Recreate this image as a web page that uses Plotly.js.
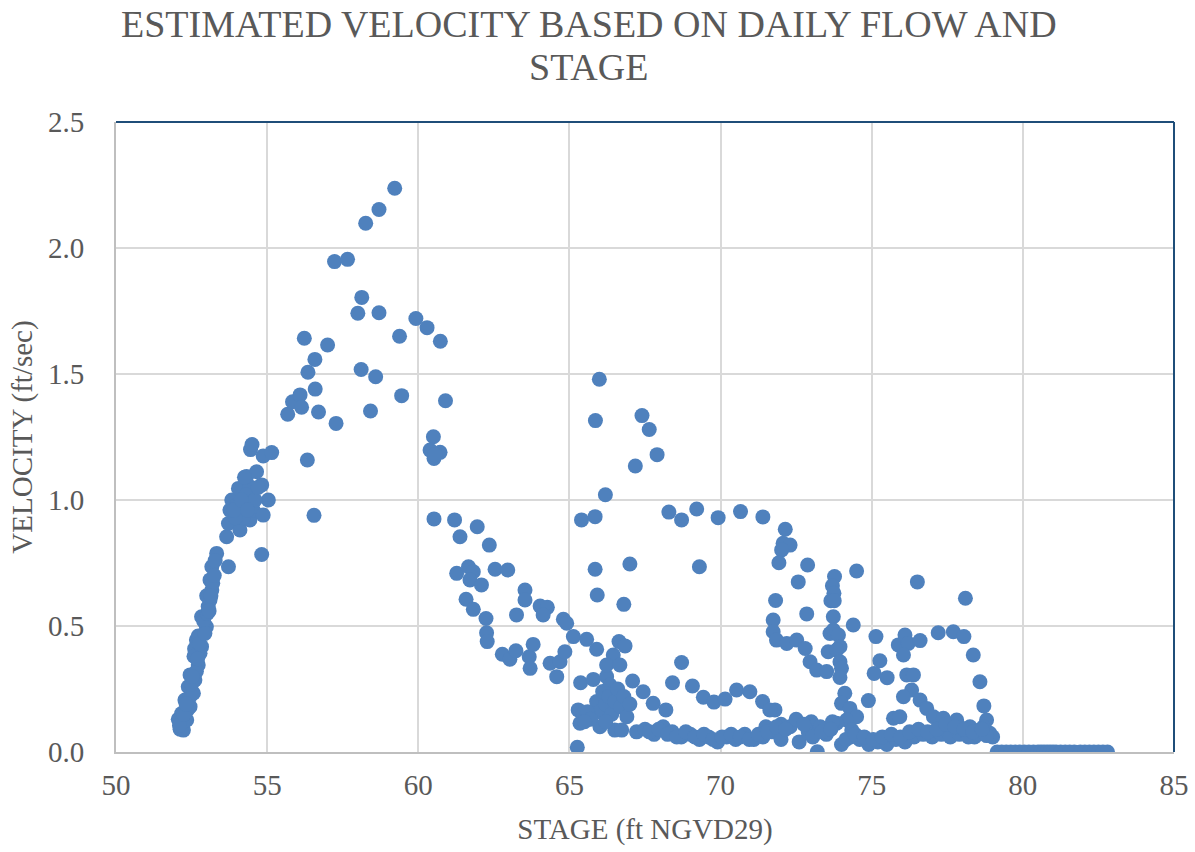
<!DOCTYPE html>
<html>
<head>
<meta charset="utf-8">
<script src="https://cdn.plot.ly/plotly-3.0.1.min.js"></script>
<style>html,body{margin:0;padding:0;background:#fff;}#chart{width:1195px;height:852px;}</style>
</head>
<body>
<div id="chart"></div>
<script>
// Stage (ft NGVD29) and estimated velocity (ft/sec)
const stage = [
 52.12,52.17,52.14,52.20,52.06,52.23,52.28,52.17,52.34,52.28,52.38,52.45,52.39,52.45,52.56,52.45,52.61,52.50,52.72,52.66,
 52.78,52.83,52.66,52.60,52.72,52.99,52.83,52.90,53.05,53.11,53.00,53.17,53.11,53.20,53.17,53.33,53.28,53.72,53.66,53.72,
 53.77,53.83,54.10,54.10,54.21,54.43,54.54,54.87,54.82,55.04,54.05,54.43,54.32,54.82,54.65,54.00,54.30,54.60,54.20,53.95,
 54.45,54.50,54.87,55.15,54.25,
 52.10,52.25,52.32,52.52,52.58,52.70,52.76,52.94,53.02,53.08,53.14,53.25,53.90,54.15,54.35,54.70,
 55.68,55.84,56.09,56.14,56.59,56.35,56.58,56.23,57.00,56.70,57.28,58.42,58.11,58.59,59.45,57.23,57.66,58.00,58.13,58.70,
 58.26,58.70,59.22,59.38,59.92,60.29,60.73,60.90,56.33,56.55,60.50,60.39,60.72,60.52,60.55,
 60.52,61.20,61.95,61.38,62.35,61.27,61.66,61.82,61.71,62.09,62.54,62.96,61.58,61.82,62.24,62.26,62.28,63.53,63.53,63.25,
 64.03,64.27,64.13,64.80,64.91,65.13,65.57,65.90,62.78,63.03,63.23,63.67,63.70,63.80,64.36,64.58,64.69,64.85,
 65.99,65.86,67.40,67.64,67.90,67.18,66.19,65.40,65.85,68.29,68.71,69.21,69.92,70.66,71.40,72.14,72.07,72.30,72.02,71.93,
 72.88,72.57,71.82,72.85,71.74,71.74,71.85,72.19,72.52,72.80,72.96,73.18,73.51,65.85,67.00,65.92,66.80,69.30,74.50,76.51,78.10,
 73.77,73.70,73.75,73.65,73.76,73.73,73.62,73.73,73.90,73.95,73.56,73.84,73.95,74.00,73.95,74.39,75.14,75.27,75.08,75.51,
 74.89,74.11,74.00,74.28,74.50,74.17,73.84,74.34,
 75.88,76.10,76.21,76.60,76.05,77.20,77.70,78.05,78.36,78.58,78.71,78.80,78.91,79.00,76.16,76.38,76.32,76.05,76.60,76.82,
 77.04,75.72,75.93,77.37,77.81,78.25,78.58,77.55,77.90,78.00,78.40,78.70,
 65.26,65.37,65.79,66.23,66.34,66.64,66.84,66.45,66.23,66.67,68.71,67.09,67.44,67.77,68.19,68.41,69.07,69.43,69.78,70.15,
 70.53,70.97,71.39,71.80,71.63,65.29,65.35,65.46,66.01,66.50,66.73,67.22,
 65.90,66.00,66.10,66.20,66.30,66.40,66.50,66.60,66.70,66.80,66.90,67.00,66.20,65.60,65.70,65.50,
 67.50,67.80,68.10,68.40,68.70,69.00,69.30,69.60,69.90,70.20,70.50,70.80,71.10,71.40,71.70,72.00,72.30,72.60,72.90,73.20,
 73.50,73.00,72.50,72.00,71.50,73.30,73.70,74.00,74.30,74.60,74.90,75.20,75.50,75.80,76.10,76.40,76.70,77.00,77.30,77.60,
 77.90,78.20,78.50,78.80,
 67.65,67.95,68.25,68.55,68.85,69.15,69.45,69.75,70.05,70.35,70.65,70.95,71.25,71.55,71.85,72.15,72.75,73.05,73.35,73.65,
 74.15,74.45,74.75,75.05,75.35,75.65,75.95,76.25,76.55,76.85,77.15,77.45,77.75,78.05,78.35,78.65,
 79.15,79.30,79.45,79.60,79.75,79.90,80.05,80.20,80.35,80.50,80.60,80.70,80.80,80.90,81.00,81.10,81.25,81.40,81.55,81.70,
 81.90,82.05,82.20,82.35,82.50,82.65,82.80
];
const velocity = [
 0.090,0.100,0.120,0.110,0.130,0.087,0.140,0.153,0.127,0.206,0.170,0.180,0.259,0.220,0.233,0.306,0.286,0.270,0.345,0.320,
 0.392,0.418,0.444,0.410,0.460,0.497,0.537,0.520,0.577,0.603,0.620,0.643,0.683,0.670,0.735,0.788,0.760,0.735,0.854,0.907,
 0.960,1.000,0.881,0.947,0.987,0.921,0.960,0.940,0.784,1.000,1.046,1.053,1.093,1.060,1.112,0.980,1.020,1.000,0.930,0.930,
 1.200,1.220,1.175,1.188,1.090,
 0.105,0.150,0.190,0.300,0.380,0.370,0.430,0.470,0.550,0.560,0.620,0.700,0.960,1.000,0.960,1.050,
 1.340,1.390,1.417,1.368,1.440,1.507,1.558,1.642,1.615,1.349,1.304,1.353,1.518,1.489,1.414,1.946,1.955,1.741,1.804,1.743,
 2.098,2.153,2.237,1.650,1.720,1.684,1.630,1.394,1.159,0.939,1.251,1.198,1.189,1.165,1.180,
 0.925,0.921,0.894,0.854,0.821,0.709,0.735,0.715,0.683,0.663,0.725,0.722,0.606,0.566,0.530,0.473,0.438,0.643,0.603,0.544,
 0.579,0.574,0.544,0.527,0.511,0.458,0.447,0.408,0.388,0.368,0.402,0.378,0.332,0.427,0.352,0.299,0.358,0.398,
 1.479,1.315,1.335,1.280,1.180,1.135,1.021,0.921,0.934,0.952,0.921,0.964,0.930,0.954,0.933,0.884,0.828,0.821,0.802,0.751,
 0.742,0.675,0.601,0.548,0.524,0.477,0.444,0.431,0.444,0.411,0.358,0.325,0.319,0.725,0.746,0.623,0.586,0.735,0.718,0.675,0.610,
 0.696,0.660,0.630,0.600,0.600,0.537,0.470,0.484,0.464,0.418,0.398,0.405,0.358,0.332,0.296,0.504,0.458,0.362,0.312,0.295,
 0.204,0.233,0.193,0.173,0.140,0.127,0.114,0.087,
 0.425,0.464,0.431,0.442,0.385,0.473,0.477,0.458,0.385,0.279,0.183,0.127,0.074,0.060,0.306,0.306,0.246,0.219,0.206,0.173,
 0.140,0.134,0.140,0.134,0.127,0.100,0.088,0.110,0.100,0.080,0.060,0.100,
 0.019,0.275,0.288,0.299,0.266,0.438,0.421,0.385,0.345,0.345,0.355,0.282,0.239,0.193,0.167,0.275,0.262,0.217,0.198,0.210,
 0.246,0.239,0.200,0.167,0.167,0.167,0.114,0.153,0.100,0.087,0.087,0.080,
 0.200,0.160,0.240,0.190,0.220,0.150,0.200,0.250,0.180,0.220,0.140,0.190,0.120,0.160,0.130,0.120,
 0.090,0.070,0.100,0.080,0.060,0.070,0.050,0.060,0.040,0.060,0.050,0.070,0.050,0.060,0.080,0.050,0.100,0.040,0.080,0.001,
 0.070,0.120,0.130,0.110,0.100,0.100,0.120,0.030,0.060,0.050,0.030,0.040,0.030,0.050,0.040,0.060,0.070,0.060,0.070,0.060,
 0.070,0.060,0.070,0.065,
 0.080,0.090,0.070,0.060,0.080,0.060,0.070,0.050,0.060,0.070,0.060,0.050,0.070,0.080,0.100,0.090,0.110,0.060,0.080,0.090,
 0.050,0.070,0.060,0.050,0.060,0.070,0.060,0.080,0.090,0.080,0.090,0.110,0.100,0.090,0.080,0.090,
 0,0,0,0,0,0,0,0,0,0,0,0,0,0,0,0,0,0,0,0,
 0,0,0,0,0,0,0
];
const xTicks = [50,55,60,65,70,75,80,85];
const yTicks = [0,0.5,1,1.5,2,2.5];
const yTickText = ['0.0','0.5','1.0','1.5','2.0','2.5'];
const titleLines = ['ESTIMATED VELOCITY BASED ON DAILY FLOW AND', 'STAGE'];

const serif = 'Liberation Serif, Times New Roman, serif';
const grey = '#595959';

const trace = {
  type: 'scatter', mode: 'markers', x: stage, y: velocity,
  marker: {size: 15, color: '#4f81bd', line: {width: 0}},
  hoverinfo: 'x+y', showlegend: false
};

const layout = {
  width: 1195, height: 852,
  margin: {l: 116, r: 21, t: 122, b: 100},
  paper_bgcolor: '#ffffff', plot_bgcolor: '#ffffff',
  xaxis: {
    range: [50, 85], tickvals: xTicks, ticktext: xTicks.map(String),
    showgrid: true, gridcolor: '#d9d9d9', gridwidth: 2,
    showline: true, linecolor: '#bfbfbf', linewidth: 2,
    zeroline: false, ticks: '', ticklabelstandoff: 6,
    tickfont: {family: serif, size: 29, color: grey},
    title: {text: 'STAGE (ft NGVD29)', font: {family: serif, size: 29, color: grey}, standoff: 19}
  },
  yaxis: {
    range: [0, 2.5], tickvals: yTicks, ticktext: yTickText,
    showgrid: true, gridcolor: '#d9d9d9', gridwidth: 2,
    showline: true, linecolor: '#bfbfbf', linewidth: 2,
    zeroline: false, ticks: '', ticklabelstandoff: 24,
    tickfont: {family: serif, size: 29, color: grey},
    title: {text: 'VELOCITY (ft/sec)', font: {family: serif, size: 29, color: grey}, standoff: 7}
  },
  annotations: [
    {text: titleLines[0], xref: 'paper', yref: 'paper', x: 0.4466, y: 1.1556, xanchor: 'center', yanchor: 'middle',
     showarrow: false, font: {family: serif, size: 38, color: grey}},
    {text: titleLines[1], xref: 'paper', yref: 'paper', x: 0.4466, y: 1.0873, xanchor: 'center', yanchor: 'middle',
     showarrow: false, font: {family: serif, size: 38, color: grey}}
  ],
  shapes: [
    {type: 'line', xref: 'paper', yref: 'paper', x0: 0, x1: 1, y0: 1, y1: 1, line: {color: '#1f4e79', width: 2}, layer: 'above'},
    {type: 'line', xref: 'paper', yref: 'paper', x0: 1, x1: 1, y0: 0, y1: 1, line: {color: '#1f4e79', width: 2}, layer: 'above'}
  ]
};

Plotly.newPlot('chart', [trace], layout, {displayModeBar: false, staticPlot: true});
</script>
</body>
</html>
